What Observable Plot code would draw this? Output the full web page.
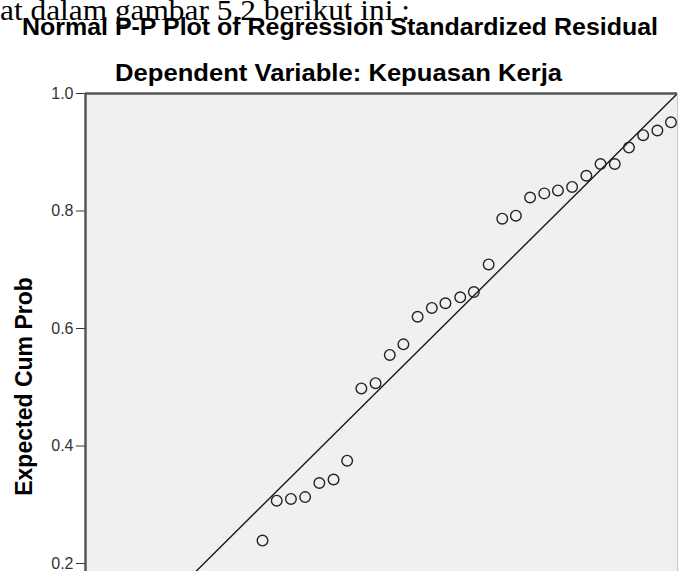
<!DOCTYPE html>
<html>
<head>
<meta charset="utf-8">
<script src="https://cdn.jsdelivr.net/npm/d3@7"></script>
<script src="https://cdn.jsdelivr.net/npm/@observablehq/plot@0.6"></script>
<style>
  html, body { margin: 0; padding: 0; background: #fff; }
  #wrap { position: relative; width: 678px; height: 571px; overflow: hidden; }
  #overlay { position: absolute; left: 0; top: 0; pointer-events: none; }
  #chart { position: absolute; left: 0; top: 0; }
</style>
</head>
<body>
<div id="wrap">
  <div id="chart"></div>
  <svg id="overlay" width="678" height="571" xmlns="http://www.w3.org/2000/svg">
    <text x="0" y="20" font-family="'Liberation Serif', 'Times New Roman', serif" font-size="30" fill="#000" textLength="410" lengthAdjust="spacingAndGlyphs">at dalam gambar 5.2 berikut ini :</text>
    <text x="340" y="35" text-anchor="middle" font-family="'Liberation Sans', Arial, sans-serif" font-weight="bold" font-size="23" fill="#000" textLength="636" lengthAdjust="spacingAndGlyphs">Normal P-P Plot of Regression Standardized Residual</text>
    <text x="338.5" y="81" text-anchor="middle" font-family="'Liberation Sans', Arial, sans-serif" font-weight="bold" font-size="23" fill="#000" textLength="447" lengthAdjust="spacingAndGlyphs">Dependent Variable: Kepuasan Kerja</text>
    <text transform="translate(32,386.5) rotate(-90)" text-anchor="middle" font-family="'Liberation Sans', Arial, sans-serif" font-weight="bold" font-size="23" fill="#000">Expected Cum Prob</text>
  </svg>
</div>
<script>
const observedCumProb = [0.299, 0.323, 0.347, 0.371, 0.395, 0.419, 0.442, 0.466, 0.490, 0.514,
                         0.537, 0.561, 0.585, 0.608, 0.633, 0.656, 0.681, 0.704, 0.727, 0.751,
                         0.775, 0.798, 0.822, 0.846, 0.870, 0.894, 0.918, 0.942, 0.966, 0.989];
const expectedCumProb = [0.239, 0.307, 0.310, 0.313, 0.337, 0.343, 0.375, 0.498, 0.507, 0.555,
                         0.573, 0.620, 0.635, 0.643, 0.653, 0.662, 0.709, 0.787, 0.792, 0.823,
                         0.830, 0.835, 0.841, 0.860, 0.880, 0.880, 0.908, 0.929, 0.937, 0.951];
const yTicks = [0.2, 0.4, 0.6, 0.8, 1.0];
const referenceLine = [0, 1];
const yVisibleMin = 0.1864; // the reference is cropped at the bottom here

const points = observedCumProb.map((x, i) => ({x, y: expectedCumProb[i]}));
const diag = referenceLine.map(v => ({x: v, y: v}));

const chart = Plot.plot({
  width: 678,
  height: 571,
  marginLeft: 85,
  marginRight: 1,
  marginTop: 93,
  marginBottom: 0,
  style: {background: "transparent", fontFamily: "'Liberation Sans', Arial, sans-serif", fontSize: "16px", color: "#333", overflow: "visible"},
  x: {domain: [0, 1], axis: null},
  y: {domain: [yVisibleMin, 1], ticks: yTicks, tickFormat: ".1f", tickSize: 9, tickPadding: 3, label: null},
  marks: [
    Plot.frame({fill: "#f0f0f0", stroke: null}),
    Plot.ruleX([1], {stroke: "#c8c8c8", strokeWidth: 1}),
    Plot.line(diag, {x: "x", y: "y", stroke: "#1a1a1a", strokeWidth: 1.4, clip: true}),
    Plot.dot(points, {x: "x", y: "y", r: 5.3, stroke: "#222", strokeWidth: 1.4, fill: "none"}),
    Plot.ruleY([1], {stroke: "#555", strokeWidth: 2.5}),
    Plot.ruleX([0], {stroke: "#555", strokeWidth: 2.5})
  ]
});
document.getElementById("chart").appendChild(chart);
</script>
</body>
</html>
